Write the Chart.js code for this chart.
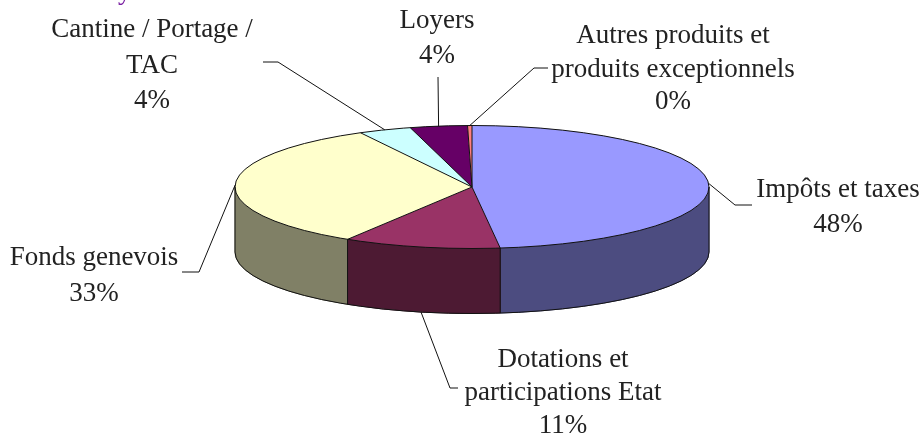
<!DOCTYPE html>
<html><head><meta charset="utf-8">
<script src="https://cdn.jsdelivr.net/npm/chart.js@4/dist/chart.umd.min.js"></script>
<style>html,body{margin:0;padding:0;background:#fff}canvas{display:block}</style>
</head><body>
<canvas id="c" width="922" height="439"></canvas>
<script>
// ---- data ----
const categories = [
  ['Impôts et taxes'],
  ['Dotations et', 'participations Etat'],
  ['Fonds genevois'],
  ['Cantine / Portage /', 'TAC'],
  ['Loyers'],
  ['Autres produits et', 'produits exceptionnels']
];
const values = [48.1, 10.7, 33.4, 3.6, 3.9, 0.3];
const topColors = ['#9999FF', '#993366', '#FFFFCC', '#CCFFFF', '#660066', '#FF8080'];
const sideColors = ['#4C4C80', '#4D1A33', '#808066', '#668080', '#330033', '#804040'];

// ---- layout (positions / styles) ----
const PIE = {cx: 472, cy: 187, rx: 237, ry: 61.5, depth: 65};
const LABEL_LAYOUT = [
  {x: 838, y: [197, 232], leader: [[735, 205], [752, 205]]},
  {x: 563, y: [367, 400, 433], leader: [[450, 388], [458, 388]]},
  {x: 94, y: [265, 301], leader: [[199, 272], [182, 272]]},
  {x: 152, y: [37, 73, 108], leader: [[278, 62], [263, 62]]},
  {x: 437, y: [28, 63], leader: [[438, 77]]},
  {x: 673, y: [43, 77, 109], leader: [[534, 68], [548, 68]]}
];
const FONT = '27px "Liberation Serif", "DejaVu Serif", serif';

const pie3d = {
  id: 'pie3d',
  beforeDatasetsDraw(chart) {
    const ctx = chart.ctx, meta = chart.getDatasetMeta(0);
    const {cx, cy, rx, ry, depth} = PIE;
    // side walls (front half only)
    meta.data.forEach((arc, i) => {
      const p = arc.getProps(['startAngle', 'endAngle'], true);
      [0, 2 * Math.PI, -2 * Math.PI].forEach(off => {
        const a1 = Math.max(p.startAngle + off, 0);
        const a2 = Math.min(p.endAngle + off, Math.PI);
        if (a2 <= a1) return;
        ctx.beginPath();
        ctx.ellipse(cx, cy, rx, ry, 0, a1, a2);
        ctx.ellipse(cx, cy + depth, rx, ry, 0, a2, a1, true);
        ctx.closePath();
        ctx.fillStyle = sideColors[i];
        ctx.fill();
        ctx.strokeStyle = sideColors[i];
        ctx.lineWidth = 1;
        ctx.stroke();
      });
    });
    // squash the library's circular pie onto the top ellipse
    const a0 = meta.data[0];
    const R = a0.outerRadius;
    ctx.save();
    ctx.translate(cx, cy);
    ctx.scale(rx / R, ry / R);
    ctx.translate(-a0.x, -a0.y);
  },
  afterDatasetsDraw(chart) {
    const ctx = chart.ctx, meta = chart.getDatasetMeta(0);
    ctx.restore();
    const {cx, cy, rx, ry, depth} = PIE;
    ctx.save();
    ctx.strokeStyle = '#111';
    ctx.lineWidth = 1;
    // outer outlines
    ctx.beginPath();
    ctx.ellipse(cx, cy, rx, ry, 0, 0, Math.PI * 2);
    ctx.stroke();
    ctx.beginPath();
    ctx.ellipse(cx, cy + depth, rx, ry, 0, 0, Math.PI);
    ctx.stroke();
    ctx.beginPath();
    ctx.moveTo(cx + rx, cy); ctx.lineTo(cx + rx, cy + depth);
    ctx.moveTo(cx - rx, cy); ctx.lineTo(cx - rx, cy + depth);
    ctx.stroke();
    // slice boundaries
    meta.data.forEach(arc => {
      const p = arc.getProps(['startAngle', 'endAngle'], true);
      const a = p.startAngle;
      const x = cx + rx * Math.cos(a), y = cy + ry * Math.sin(a);
      ctx.beginPath();
      ctx.moveTo(cx, cy); ctx.lineTo(x, y);
      let an = ((a % (2 * Math.PI)) + 2 * Math.PI) % (2 * Math.PI);
      if (an > 0 && an < Math.PI) { ctx.lineTo(x, y + depth); }
      ctx.stroke();
    });
    // labels and leader lines
    ctx.font = FONT;
    ctx.textAlign = 'center';
    ctx.textBaseline = 'alphabetic';
    meta.data.forEach((arc, i) => {
      const p = arc.getProps(['startAngle', 'endAngle'], true);
      const mid = (p.startAngle + p.endAngle) / 2;
      const s = Math.sin(mid);
      const ax = cx + rx * Math.cos(mid);
      const ay = cy + ry * s + (s > 0.3 ? depth : 0);
      const L = LABEL_LAYOUT[i];
      ctx.beginPath();
      ctx.moveTo(ax, ay);
      L.leader.forEach(pt => ctx.lineTo(pt[0], pt[1]));
      ctx.strokeStyle = '#111';
      ctx.stroke();
      const lines = categories[i].concat([Math.round(values[i]) + '%']);
      ctx.fillStyle = '#222';
      lines.forEach((t, k) => ctx.fillText(t, L.x, L.y[k]));
    });
    // cut-off title fragment at the top
    ctx.fillStyle = '#7a1fa2';
    ctx.textAlign = 'left';
    ctx.fillText('y', 118, -1);
    ctx.restore();
  }
};

new Chart(document.getElementById('c'), {
  type: 'pie',
  data: {
    labels: categories,
    datasets: [{data: values, backgroundColor: topColors, borderWidth: 0, hoverOffset: 0}]
  },
  options: {
    responsive: false,
    animation: false,
    events: [],
    plugins: {legend: {display: false}, tooltip: {enabled: false}, title: {display: false}}
  },
  plugins: [pie3d]
});
</script>
</body></html>
